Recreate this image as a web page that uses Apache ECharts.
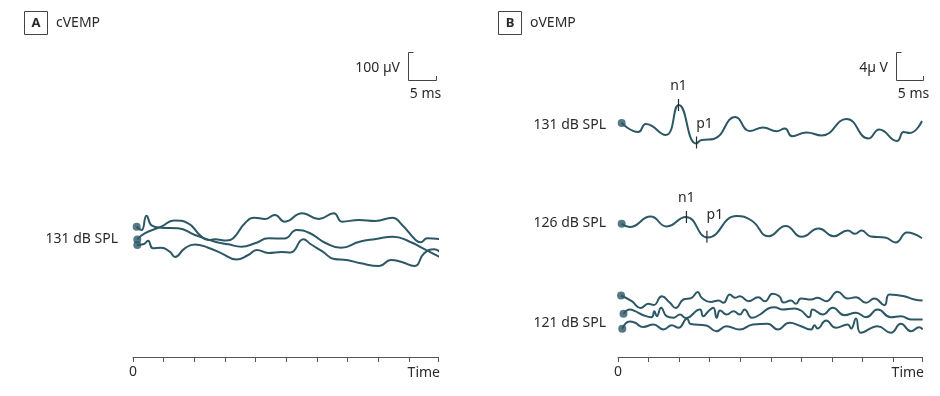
<!DOCTYPE html>
<html>
<head>
<meta charset="utf-8">
<script src="https://cdn.jsdelivr.net/npm/echarts@6/dist/echarts.min.js"></script>
<style>
  html, body { margin: 0; padding: 0; background: #fff; }
  #chart { width: 940px; height: 396px; }
</style>
</head>
<body>
<div id="chart"></div>
<script>
// time in axis tick units, amplitude in arbitrary units above the time axis
const cvemp1 = [[0.12,130.3],[0.28,127],[0.44,141.3],[0.62,131.3],[0.92,129.3],[1.47,128.7],[2.02,122],[2.68,115.3],[3.11,112.7],[3.54,110.3],[3.98,113.7],[4.42,118.7],[4.94,118.5],[5.34,127],[5.76,124],[6.28,114],[6.78,109.3],[7.39,115.3],[7.92,118],[8.48,120.3],[9.03,115.3],[9.46,108.7],[10.0,100]];
const cvemp2 = [[0.14,117.5],[0.38,123.7],[0.92,130.3],[1.34,136.5],[1.80,133.7],[2.18,122],[2.45,117],[2.67,117.7],[3.06,116.5],[3.26,118.5],[3.65,133.7],[3.97,139.3],[4.30,138],[4.63,142],[4.95,135.3],[5.52,143.7],[6.06,138],[6.55,143.7],[6.82,135.3],[7.37,137],[7.91,136],[8.46,139.3],[8.78,132],[9.22,117],[9.38,114.7],[9.60,118.7],[9.99,118]];
const cvemp3 = [[0.14,112],[0.36,113],[0.49,116.3],[0.65,108.7],[0.92,109.3],[1.20,105.3],[1.37,100],[1.69,108.7],[2.02,112.5],[2.45,109.3],[2.89,103.7],[3.37,97.5],[3.76,102],[4.04,107],[4.42,104],[4.85,105],[5.14,104.5],[5.56,117.7],[5.79,113],[6.19,105.3],[6.56,98],[6.97,97],[7.43,93.7],[8.03,91],[8.41,97],[8.74,95.3],[9.18,91],[9.50,103.7],[9.83,107.7],[10.0,105.5]];

const ovemp131 = [[0.12,234],[0.66,225],[0.91,233],[1.56,222],[1.99,252],[2.56,213.5],[2.74,217],[3.13,218],[3.84,240],[4.31,226],[4.75,229.5],[5.19,225.8],[5.46,228.5],[5.70,220.8],[6.17,224.5],[6.67,221.5],[7.48,238],[8.20,218.5],[8.55,227.5],[9.13,216],[9.35,225],[9.55,224],[9.95,236]];
const ovemp126 = [[0.12,133.2],[0.38,130],[1.07,140.5],[1.59,130.5],[2.22,140],[2.94,119.5],[3.88,141],[4.37,136.5],[4.93,120.8],[5.49,131],[6.01,120.2],[6.57,128.5],[7.06,120.8],[7.52,126.5],[7.76,123.2],[7.97,126.5],[8.27,120.5],[8.74,119.5],[9.09,114.5],[9.46,124.5],[9.95,118.8]];
const ovemp121a = [[0.10,61.5],[0.45,55.8],[0.74,49],[0.99,53.2],[1.17,52],[1.43,60.8],[1.70,54.2],[1.89,49],[2.14,57.5],[2.41,59.2],[2.61,65],[2.74,59.2],[3.03,55],[3.29,56.5],[3.45,54.2],[3.66,62.5],[3.83,59.2],[3.99,60.8],[4.27,55.8],[4.59,59.8],[4.81,55.8],[5.06,63.2],[5.28,60.8],[5.42,54.5],[5.66,56.5],[5.82,53.2],[5.99,58.5],[6.32,57.5],[6.53,59.2],[6.81,55.8],[7.19,65.2],[7.52,58.5],[7.79,59.8],[8.12,54.2],[8.39,58.5],[8.72,51.8],[8.88,62.5],[9.37,60.8],[9.70,57.5],[9.97,56.5]];
const ovemp121b = [[0.18,43.2],[0.39,47.5],[0.56,45.8],[0.83,41.8],[1.10,39.8],[1.19,45.8],[1.27,40.8],[1.41,49.2],[1.59,40.8],[1.81,39.2],[2.03,42.5],[2.22,39],[2.68,47.5],[2.79,40.8],[2.96,45.8],[3.12,49.2],[3.23,39.2],[3.34,46.5],[3.56,42.5],[3.78,45.8],[3.99,42.5],[4.14,47.5],[4.38,39.2],[4.65,42.5],[4.92,48.5],[5.12,49.8],[5.39,47.5],[5.77,48.5],[5.99,46.5],[6.26,39.8],[6.37,47.5],[6.70,42.5],[7.03,49.2],[7.41,41.8],[7.79,44.2],[8.12,39.8],[8.50,47.5],[8.93,39.8],[9.26,40.8],[9.59,37.5],[9.97,37.5]];
const ovemp121c = [[0.14,28.2],[0.38,35.5],[0.56,34.2],[0.82,30],[1.16,32.5],[1.49,27.5],[1.76,31.8],[1.98,29.2],[2.26,38.2],[2.38,33],[2.89,31.5],[3.22,25.8],[3.55,30.8],[3.98,27.5],[4.42,32.5],[4.90,33.2],[5.23,27.5],[5.61,34.2],[5.99,30.8],[6.32,27.5],[6.43,31.8],[6.53,28.5],[6.81,36.5],[7.13,29.2],[7.52,32.5],[7.63,28.5],[7.79,38.5],[7.95,24.2],[8.50,30.8],[8.93,24.2],[9.26,33.2],[9.59,25.8],[9.86,29.8],[9.97,27.5]];

// n1 / p1 peak markers [time, amplitude]
const peaks131 = { n1: [1.98, 252], p1: [2.57, 214.5] };
const peaks126 = { n1: [2.24, 140], p1: [2.91, 120.3] };

const levelLabels = ['131 dB SPL', '126 dB SPL', '121 dB SPL'];

const teal = '#2c5866';
const ink = '#2a2a2a';
const font = 'Noto Sans';

const chart = echarts.init(document.getElementById('chart'));

function marker(coord, name, dist, dx) {
  return {
    coord: coord, symbol: 'rect', symbolSize: [1.2, 12],
    itemStyle: { color: ink },
    label: {
      show: true, formatter: name, position: 'top', distance: dist, offset: [dx, 0],
      color: ink, fontSize: 14, fontFamily: font,
    },
  };
}

function trace(data, idx, peaks, pDist) {
  const s = {
    type: 'line',
    xAxisIndex: idx,
    yAxisIndex: idx,
    data: data,
    smooth: 0.5,
    symbol: 'none',
    clip: false,
    silent: true,
    lineStyle: { color: teal, width: 2 },
  };
  if (peaks) {
    s.markPoint = {
      silent: true,
      data: [marker(peaks.n1, 'n1', 6, 0), marker(peaks.p1, 'p1', pDist, 8)],
    };
  }
  return s;
}

function dots(traces, idx) {
  return {
    type: 'scatter',
    xAxisIndex: idx,
    yAxisIndex: idx,
    data: traces.map((t) => t[0]),
    symbol: 'circle',
    symbolSize: 8,
    silent: true,
    itemStyle: { color: teal },
  };
}

function xAxis(idx) {
  return {
    type: 'value',
    gridIndex: idx,
    min: 0,
    max: 9.95,
    interval: 1,
    splitLine: { show: false },
    axisLine: { lineStyle: { color: '#555', width: 1 } },
    axisTick: { length: 5, lineStyle: { color: '#555' } },
    axisLabel: {
      margin: 8,
      color: ink,
      fontSize: 14,
      fontFamily: font,
      formatter: (v) => (v === 0 ? '0' : ''),
    },
  };
}

function yAxis(idx) {
  return { type: 'value', gridIndex: idx, min: 0, max: 317, show: false };
}

function txt(x, y, text, align, extra) {
  return {
    type: 'text',
    x: x,
    y: y,
    style: Object.assign({
      text: text, fill: ink, fontSize: 14, fontFamily: font,
      align: align || 'left', verticalAlign: 'middle',
    }, extra || {}),
  };
}

function scaleBar(x0, x1) {
  return {
    type: 'polyline',
    shape: { points: [[x0 + 5, 52.5], [x0, 52.5], [x0, 80.5], [x1, 80.5], [x1, 76]] },
    style: { stroke: '#444', lineWidth: 1, fill: null },
  };
}

function panelBox(x, letter) {
  return [
    { type: 'rect', shape: { x: x, y: 11.5, width: 23, height: 23 }, style: { stroke: '#444', lineWidth: 1, fill: '#fff' } },
    txt(x + 11.5, 23.5, letter, 'center', { fontWeight: 'bold', fontSize: 13 }),
  ];
}

const option = {
  animation: false,
  backgroundColor: '#fff',
  grid: [
    { left: 133, top: 40, width: 305, height: 317 },
    { left: 618, top: 40, width: 304, height: 317 },
  ],
  xAxis: [xAxis(0), xAxis(1)],
  yAxis: [yAxis(0), yAxis(1)],
  series: [
    trace(cvemp1, 0),
    trace(cvemp2, 0),
    trace(cvemp3, 0),
    dots([cvemp1, cvemp2, cvemp3], 0),
    trace(ovemp131, 1, peaks131, 5),
    trace(ovemp126, 1, peaks126, 9),
    trace(ovemp121a, 1),
    trace(ovemp121b, 1),
    trace(ovemp121c, 1),
    dots([ovemp131, ovemp126, ovemp121a, ovemp121b, ovemp121c], 1),
  ],
  graphic: [
    ...panelBox(24.5, 'A'),
    txt(56, 23, 'cVEMP'),
    ...panelBox(498.5, 'B'),
    txt(530, 23, 'oVEMP'),

    scaleBar(408.5, 436.5),
    txt(400, 68, '100 µV', 'right'),
    txt(425.5, 94, '5 ms', 'center'),
    scaleBar(896.5, 923.5),
    txt(888, 68, '4µ V', 'right'),
    txt(913.5, 94, '5 ms', 'center'),

    txt(118, 239.5, levelLabels[0], 'right'),
    txt(606, 125.5, levelLabels[0], 'right'),
    txt(606, 223.5, levelLabels[1], 'right'),
    txt(606, 323.5, levelLabels[2], 'right'),

    txt(440, 373, 'Time', 'right'),
    txt(924, 373, 'Time', 'right'),
  ],
};

chart.setOption(option);
</script>
</body>
</html>
